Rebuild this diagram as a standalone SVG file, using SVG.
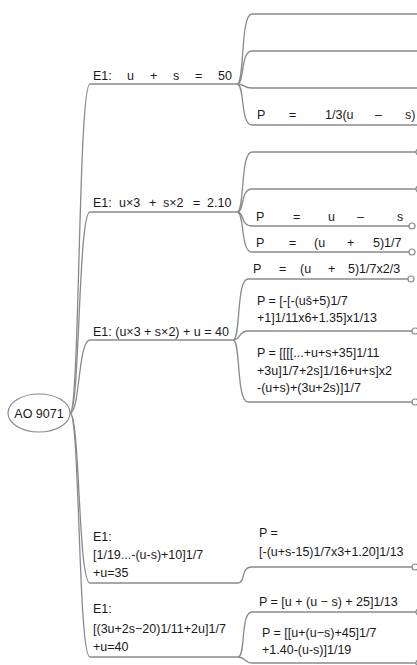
<svg xmlns="http://www.w3.org/2000/svg" width="417" height="665" viewBox="0 0 417 665">
<style>
text{font-family:"Liberation Sans",Arial,sans-serif;font-size:12.5px;fill:#1a1a1a}
.c{fill:none;stroke:#8a8a8a;stroke-width:1.3}
.e{fill:#fff;stroke:#8a8a8a;stroke-width:1.2}
</style>
<rect width="417" height="665" fill="#fff"/>
<g id="connectors">
<path class="c" d="M70,413 C80,413 78,84 90,84 H237"/>
<path class="c" d="M70,413 C80,413 78,212 90,212 H237"/>
<path class="c" d="M70,413 C80,413 78,340 90,340 H233"/>
<path class="c" d="M70,413 C80,413 78,583 90,583 H238"/>
<path class="c" d="M70,413 C80,413 78,657 90,657 H238"/>
<path class="c" d="M237,84 C245,84 240,14 252,14 H417"/>
<path class="c" d="M237,84 C245,84 240,51 252,51 H417"/>
<path class="c" d="M237,84 C245,84 243,88 252,88 H417"/>
<path class="c" d="M237,84 C245,84 240,125 252,125 H417"/>
<path class="c" d="M237,212 C245,212 240,152 252,152 H416"/>
<path class="c" d="M237,212 C245,212 240,189 252,189 H416"/>
<path class="c" d="M237,212 C245,212 240,226 252,226 H409"/>
<path class="c" d="M237,212 C245,212 240,252 252,252 H409"/>
<path class="c" d="M233,340 C241,340 236,279 248,279 H408"/>
<path class="c" d="M233,340 C241,340 238,331 248,331 H412"/>
<path class="c" d="M233,340 C241,340 236,402 248,402 H412"/>
<path class="c" d="M238,583 C246,583 240,567 252,567 H412"/>
<path class="c" d="M238,657 C246,657 240,612 252,612 H416"/>
<path class="c" d="M238,657 C246,657 244,663 252,663 H416"/>
<circle class="e" cx="419" cy="152" r="3"/>
<circle class="e" cx="419" cy="189" r="3"/>
<circle class="e" cx="412" cy="226" r="3"/>
<circle class="e" cx="412" cy="252" r="3"/>
<circle class="e" cx="411" cy="279" r="3"/>
<circle class="e" cx="415" cy="331" r="3"/>
<circle class="e" cx="415" cy="402" r="3"/>
<circle class="e" cx="415" cy="567" r="3"/>
<circle class="e" cx="419" cy="612" r="3"/>
<circle class="e" cx="419" cy="663" r="3"/>
</g>
<g id="root">
<ellipse cx="39" cy="413" rx="31" ry="19" fill="#fff" stroke="#8a8a8a" stroke-width="1.2"/>
<text x="39" y="418" text-anchor="middle">AO 9071</text>
</g>
<g id="b1">
<text y="80"><tspan x="93">E1:</tspan><tspan x="127">u</tspan><tspan x="150">+</tspan><tspan x="173">s</tspan><tspan x="195">=</tspan><tspan x="218">50</tspan></text>
</g>
<g id="b1c4">
<text y="119"><tspan x="257">P</tspan><tspan x="289">=</tspan><tspan x="325">1/3(u</tspan><tspan x="375">–</tspan><tspan x="405">s)</tspan></text>
</g>
<g id="b2">
<text y="207"><tspan x="93">E1:</tspan><tspan x="119">u×3</tspan><tspan x="149">+</tspan><tspan x="163">s×2</tspan><tspan x="193">=</tspan><tspan x="207">2.10</tspan></text>
</g>
<g id="b2c3">
<text y="221"><tspan x="256">P</tspan><tspan x="293">=</tspan><tspan x="328">u</tspan><tspan x="357">–</tspan><tspan x="397">s</tspan></text>
</g>
<g id="b2c4">
<text y="247"><tspan x="256">P</tspan><tspan x="289">=</tspan><tspan x="314">(u</tspan><tspan x="347">+</tspan><tspan x="373">5)1/7</tspan></text>
</g>
<g id="b3">
<text x="93" y="336">E1: (u×3 + s×2) + u = 40</text>
</g>
<g id="b3c1">
<text y="273"><tspan x="253">P</tspan><tspan x="279">=</tspan><tspan x="300">(u</tspan><tspan x="328">+</tspan><tspan x="348">5)1/7x2/3</tspan></text>
</g>
<g id="b3c2">
<text x="257" y="305">P = [-[-(uš+5)1/7</text>
<text x="257" y="322">+1]1/11x6+1.35]x1/13</text>
</g>
<g id="b3c3">
<text x="257" y="357">P = [[[[...+u+s+35]1/11</text>
<text x="257" y="375">+3u]1/7+2s]1/16+u+s]x2</text>
<text x="257" y="392">-(u+s)+(3u+2s)]1/7</text>
</g>
<g id="b4">
<text x="93" y="541">E1:</text>
<text x="93" y="559">[1/19...-(u-s)+10]1/7</text>
<text x="93" y="577">+u=35</text>
</g>
<g id="b4c1">
<text x="259" y="537">P =</text>
<text x="259" y="556">[-(u+s-15)1/7x3+1.20]1/13</text>
</g>
<g id="b5">
<text x="93" y="613">E1:</text>
<text x="93" y="633">[(3u+2s−20)1/11+2u]1/7</text>
<text x="93" y="651">+u=40</text>
</g>
<g id="b5c1">
<text x="259" y="606">P = [u + (u − s) + 25]1/13</text>
</g>
<g id="b5c2">
<text x="262" y="637">P = [[u+(u−s)+45]1/7</text>
<text x="262" y="654">+1.40-(u-s)]1/19</text>
</g>
</svg>
